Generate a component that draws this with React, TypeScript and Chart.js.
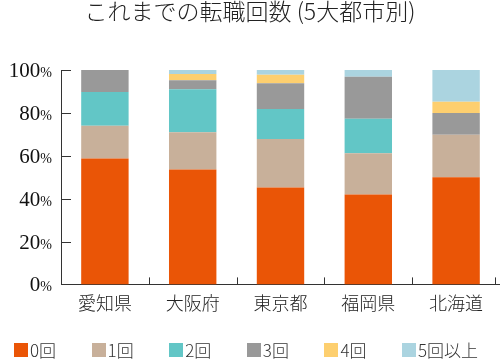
import React, { useEffect, useRef } from "react";
import { Chart, registerables } from "chart.js";

Chart.register(...registerables);

const title = "これまでの転職回数 (5大都市別)";
const categories = ["愛知県", "大阪府", "東京都", "福岡県", "北海道"];
const seriesNames = ["0回", "1回", "2回", "3回", "4回", "5回以上"];
const v0 = [58.7, 53.6, 45.2, 41.9, 50.0];
const v1 = [15.3, 17.4, 22.6, 19.3, 19.8];
const v2 = [15.7, 20.0, 14.0, 16.1, 0];
const v3 = [10.3, 4.2, 12.0, 19.6, 10.1];
const v4 = [0, 2.9, 4.0, 0, 5.3];
const v5 = [0, 1.9, 2.2, 3.1, 14.8];
const yTicks = [0, 20, 40, 60, 80, 100];
const colors = ["#EA5506", "#C8B09A", "#62C6C6", "#999999", "#FDCF6F", "#ABD4E0"];

const axisPlugin = {
  id: "customAxis",
  afterDraw(chart: any) {
    const ctx = chart.ctx;
    const y = chart.scales.y;
    const x = chart.scales.x;
    const area = chart.chartArea;
    ctx.save();
    ctx.strokeStyle = "#333";
    ctx.lineWidth = 1;
    yTicks.forEach((v) => {
      const py = Math.round(y.getPixelForValue(v)) + 0.5;
      ctx.beginPath();
      ctx.moveTo(area.left, py);
      ctx.lineTo(area.left + 10, py);
      ctx.stroke();
    });
    for (let i = 0; i < categories.length; i++) {
      const c = x.getPixelForValue(i);
      const next = i < categories.length - 1 ? x.getPixelForValue(i + 1) : area.right;
      const px = Math.round(i < categories.length - 1 ? (c + next) / 2 : area.right - 5) + 0.5;
      ctx.beginPath();
      ctx.moveTo(px, area.bottom);
      ctx.lineTo(px, area.bottom - 7);
      ctx.stroke();
    }
    ctx.fillStyle = "#111";
    ctx.textBaseline = "alphabetic";
    yTicks.forEach((v) => {
      const py = y.getPixelForValue(v) + 7;
      const rightX = 52;
      ctx.font = "14px 'Liberation Serif', 'DejaVu Serif', serif";
      ctx.textAlign = "right";
      ctx.fillText("%", rightX, py);
      const pw = ctx.measureText("%").width;
      ctx.font = "21px 'Liberation Serif', 'DejaVu Serif', serif";
      ctx.fillText(String(v), rightX - pw, py);
    });
    ctx.restore();
  },
};

export default function App() {
  const ref = useRef<HTMLCanvasElement>(null);
  useEffect(() => {
    if (!ref.current) return;
    const values = [v0, v1, v2, v3, v4, v5];
    const chart = new Chart(ref.current, {
      type: "bar",
      data: {
        labels: categories,
        datasets: seriesNames.map((n, i) => ({
          label: n,
          data: values[i],
          backgroundColor: colors[i],
          borderWidth: 0,
          barPercentage: 0.54,
          categoryPercentage: 1,
        })),
      },
      options: {
        animation: false,
        responsive: false,
        layout: { padding: { left: 53, right: 0, top: 70, bottom: 50 } },
        plugins: {
          legend: { display: false },
          tooltip: { enabled: false },
          title: { display: false },
        },
        scales: {
          x: {
            stacked: true,
            grid: { display: false },
            border: { display: true, color: "#333" },
            ticks: {
              color: "#222",
              font: { size: 18, family: "'Noto Sans CJK JP', sans-serif", weight: "300" },
              padding: 0,
            },
          },
          y: {
            stacked: true,
            min: 0,
            max: 100,
            grid: { display: false },
            border: { display: true, color: "#333" },
            ticks: { display: false, stepSize: 20 },
          },
        },
      },
      plugins: [axisPlugin],
    });
    return () => chart.destroy();
  }, []);

  return (
    <div style={{ position: "absolute", left: 0, top: 0, width: 500, height: 364, background: "#fff" }}>
      <canvas ref={ref} width={500} height={364} style={{ display: "block" }} />
      <div
        style={{
          position: "absolute",
          left: 0,
          top: -3,
          width: 500,
          textAlign: "center",
          fontFamily: "'Noto Sans CJK JP', sans-serif",
          fontWeight: 300,
          fontSize: 23,
          lineHeight: "26px",
          color: "#222",
        }}
      >
        {title}
      </div>
      <div
        style={{
          position: "absolute",
          left: 14,
          top: 340,
          display: "flex",
          fontFamily: "'Noto Sans CJK JP', sans-serif",
          fontWeight: 300,
          fontSize: 17,
          color: "#333",
          lineHeight: "20px",
        }}
      >
        {seriesNames.map((n, i) => (
          <div key={n} style={{ width: 77.6, display: "flex", alignItems: "center" }}>
            <span style={{ width: 14, height: 14, background: colors[i], display: "inline-block", marginRight: 2 }} />
            <span>{n}</span>
          </div>
        ))}
      </div>
    </div>
  );
}
